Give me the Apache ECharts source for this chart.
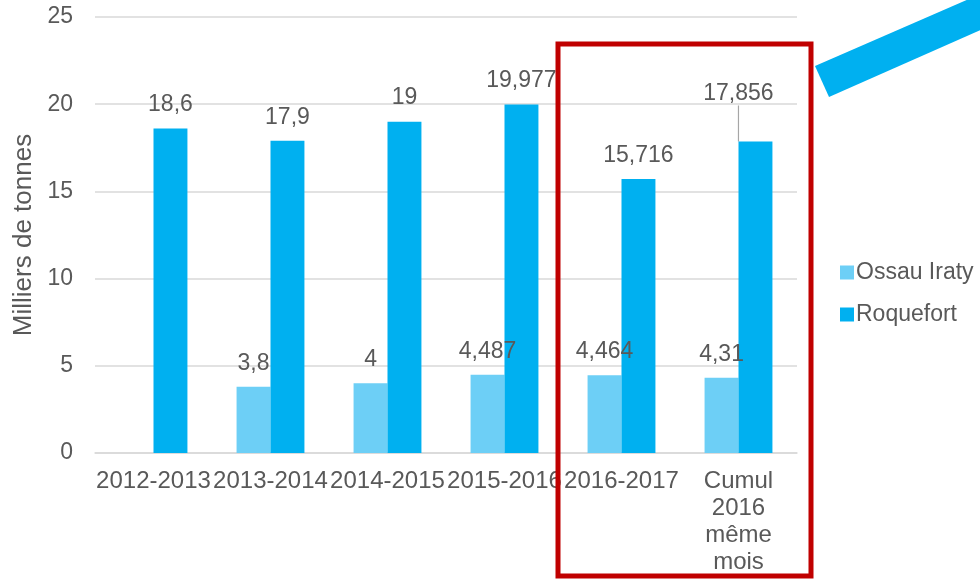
<!DOCTYPE html>
<html>
<head>
<meta charset="utf-8">
<script src="https://cdn.jsdelivr.net/npm/echarts@6/dist/echarts.min.js"></script>
<style>
  html, body { margin: 0; padding: 0; background: #fff; }
  #chart { width: 980px; height: 582px; }
</style>
</head>
<body>
<div id="chart"></div>
<script>
const categories = ['2012-2013', '2013-2014', '2014-2015', '2015-2016', '2016-2017', 'Cumul\n2016\nmême\nmois']
const ossauIraty = [null, 3.8, 4, 4.487, 4.464, 4.31]
const roquefort = [18.6, 17.9, 19, 19.977, 15.716, 17.856]
const yTicks = [0, 5, 10, 15, 20, 25]

const textColor = '#595959'
const fontFamily = '"Liberation Sans", Arial, sans-serif'

const fmt = (v) => String(v).replace('.', ',')

const chart = echarts.init(document.getElementById('chart'))

const dataLabel = {
  show: true,
  position: 'top',
  distance: 12,
  fontSize: 23,
  color: textColor,
  fontFamily: fontFamily,
  formatter: (p) => fmt(p.value)
}

// only the last Roquefort label is pulled up with a leader line
const roquefortData = roquefort.map((v, i) => i === 5
  ? { value: v, labelLine: { show: true, lineStyle: { color: '#A6A6A6', width: 1.2 } } }
  : v)

const option = {
  animation: false,
  textStyle: { fontFamily: fontFamily, color: textColor },
  grid: { left: 95, right: 183, top: 17, bottom: 129 },
  legend: {
    orient: 'vertical',
    left: 835,
    top: 256,
    itemWidth: 14,
    itemHeight: 14,
    itemGap: 19,
    icon: 'rect',
    textStyle: { fontSize: 23, color: textColor, fontFamily: fontFamily, padding: [0, 0, 0, -3] },
    data: ['Ossau Iraty', 'Roquefort']
  },
  xAxis: {
    type: 'category',
    data: categories,
    axisLine: { lineStyle: { color: '#D9D9D9', width: 1.5 } },
    axisTick: { show: false },
    axisLabel: {
      interval: 0,
      color: textColor,
      fontSize: 24,
      lineHeight: 27,
      margin: 15,
      fontFamily: fontFamily
    }
  },
  yAxis: {
    type: 'value',
    min: yTicks[0],
    max: yTicks[yTicks.length - 1],
    interval: 5,
    name: 'Milliers de tonnes',
    nameLocation: 'middle',
    nameGap: 56,
    nameTextStyle: { fontSize: 26, color: textColor, fontFamily: fontFamily },
    axisLine: { show: false },
    axisTick: { show: false },
    axisLabel: { color: textColor, fontSize: 23, margin: 22, fontFamily: fontFamily },
    splitLine: { lineStyle: { color: '#D9D9D9', width: 1.5 } }
  },
  series: [
    {
      name: 'Ossau Iraty',
      type: 'bar',
      data: ossauIraty,
      barGap: '0%',
      barCategoryGap: '42%',
      itemStyle: { color: '#6DCFF6' },
      label: dataLabel
    },
    {
      name: 'Roquefort',
      type: 'bar',
      data: roquefortData,
      barGap: '0%',
      barCategoryGap: '42%',
      itemStyle: { color: '#00B0F0' },
      label: dataLabel,
      labelLine: { show: false },
      labelLayout: (params) => params.dataIndex === 5 ? { dx: -17, dy: -24 } : {}
    }
  ],
  graphic: [
    {
      type: 'rect',
      shape: { x: 558, y: 44, width: 253, height: 532 },
      style: { fill: 'none', stroke: '#C00000', lineWidth: 5 },
      z: 100
    },
    {
      type: 'polygon',
      shape: { points: [[815, 66], [829, 97], [985, 28], [985, -8]] },
      style: { fill: '#00B0F0' },
      z: 100
    }
  ]
}

chart.setOption(option)
</script>
</body>
</html>
